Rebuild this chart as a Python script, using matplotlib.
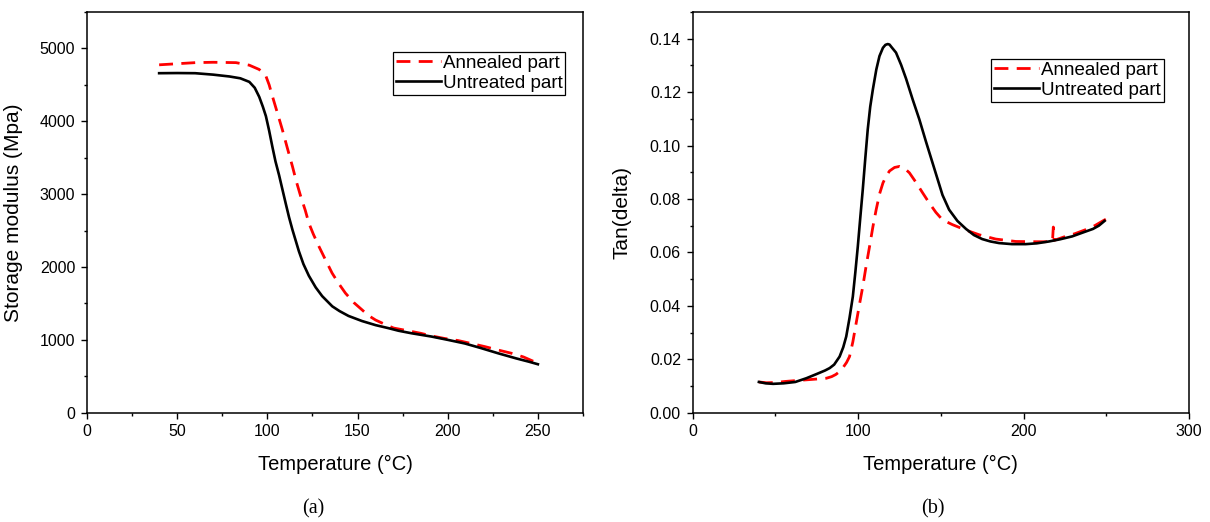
import matplotlib
matplotlib.use('Agg')
import matplotlib.pyplot as plt
from matplotlib.ticker import MultipleLocator, FormatStrFormatter

plt.rcParams['font.family'] = ['Liberation Sans', 'DejaVu Sans']

# ---- (a) storage modulus ----
t_mod_untreated = [40, 50, 60, 70, 79, 85, 90, 93, 95.5, 97.5, 99.2, 101, 102.8, 104.5,
                   106.5, 108.3, 110.2, 112, 113.9, 117.5, 120, 123, 126.8, 130.4, 136,
                   140, 145, 152.5, 160, 167.2, 172.7, 180, 191, 200, 209.5, 218, 228,
                   238, 245, 250]
mod_untreated = [4660, 4662, 4660, 4640, 4615, 4590, 4541, 4460, 4335, 4200, 4070, 3870,
                 3648, 3450, 3260, 3070, 2870, 2685, 2512, 2215, 2040, 1880, 1720, 1600,
                 1460, 1395, 1328, 1258, 1202, 1160, 1125, 1090, 1045, 1000, 950, 890,
                 815, 745, 700, 665]

t_mod_annealed = [40, 50, 60, 70, 82.6, 90, 95.5, 99.2, 101, 102.8, 105.5, 108.3, 111,
                  113.9, 116, 118.5, 121, 123, 125.5, 128.6, 132, 135.9, 139.5, 143.3,
                  148, 152.5, 156, 160, 165.4, 170, 178.3, 185, 191, 198, 205.8, 213,
                  220.6, 228, 235.3, 242, 248, 250]
mod_annealed = [4775, 4790, 4805, 4810, 4805, 4770, 4711, 4620, 4500, 4344, 4120, 3886,
                3640, 3382, 3180, 2969, 2780, 2603, 2450, 2282, 2110, 1916, 1775, 1641,
                1510, 1412, 1335, 1272, 1210, 1162, 1123, 1090, 1054, 1020, 990, 950,
                907, 860, 816, 765, 700, 685]

# ---- (b) tan delta ----
t_tan_untreated = [40, 44, 48.6, 55, 62, 68.7, 75, 80, 82.8, 85.5, 88.8, 91, 92.8, 94.8,
                   96.8, 98.3, 99.8, 101.3, 102.8, 104.3, 105.8, 107.3, 108.9, 111, 112.9,
                   115, 116.5, 117.9, 119, 120, 122.9, 126, 129, 133, 137, 141, 145, 149,
                   151, 155, 160, 165.2, 170, 175, 180, 185.2, 193, 201.3, 208, 215.4,
                   222, 229.4, 237, 242, 245.5, 249]
tan_untreated = [0.0115, 0.0110, 0.0108, 0.0110, 0.0115, 0.0129, 0.0145, 0.0158, 0.0167,
                 0.0180, 0.0210, 0.0245, 0.0285, 0.0355, 0.0435, 0.0525, 0.0622, 0.0730,
                 0.0835, 0.0950, 0.1060, 0.1145, 0.1210, 0.1285, 0.1335, 0.1366, 0.1377,
                 0.1380, 0.1378, 0.1370, 0.1348, 0.1302, 0.1250, 0.1172, 0.1098, 0.1015,
                 0.0935, 0.0855, 0.0815, 0.0760, 0.0718, 0.0688, 0.0665, 0.0650, 0.0641,
                 0.0635, 0.0631, 0.0631, 0.0634, 0.0641, 0.0649, 0.0660, 0.0677, 0.0688,
                 0.0700, 0.0718]

t_tan_annealed = [40, 44.6, 50, 56, 62, 68.7, 75, 80.8, 84, 86.5, 88.8, 91, 93, 94.8,
                  96.8, 98.8, 100.8, 102.8, 104.8, 106.9, 108.9, 110.9, 113, 115, 116.9,
                  119, 122, 125, 128, 131, 135, 139, 143, 147, 151, 157, 165, 173.2,
                  183.2, 195.3, 207.4, 213, 217.5, 218, 218.5, 225.4, 231, 237.5, 243,
                  248.5, 250]
tan_annealed = [0.0115, 0.0112, 0.0113, 0.0117, 0.0120, 0.0123, 0.0126, 0.0129, 0.0135,
                0.0143, 0.0154, 0.0170, 0.0188, 0.0210, 0.0265, 0.0335, 0.0405, 0.0472,
                0.0548, 0.0622, 0.0695, 0.0760, 0.0820, 0.0860, 0.0885, 0.0905, 0.0918,
                0.0922, 0.0915, 0.0898, 0.0862, 0.0823, 0.0785, 0.0750, 0.0722, 0.0704,
                0.0684, 0.0666, 0.0650, 0.0641, 0.0640, 0.0640, 0.0642, 0.0695, 0.0645,
                0.0660, 0.0670, 0.0685, 0.0700, 0.0720, 0.0725]

labels = ['Annealed part', 'Untreated part']

fig = plt.figure(figsize=(12.1, 5.22), dpi=100)
ax1 = fig.add_axes([0.0719, 0.2094, 0.4099, 0.7676])
ax2 = fig.add_axes([0.5725, 0.2094, 0.4101, 0.7676])


def style_axes(ax):
    for sp in ax.spines.values():
        sp.set_linewidth(1.1)
    ax.tick_params(which='both', direction='out', top=False, right=False,
                   labelsize=11.5, width=1.0)
    ax.tick_params(which='major', length=4.5, pad=4)
    ax.tick_params(which='minor', length=2.5)


red_kw = dict(color='#ff0000', lw=2.0, dashes=(5, 3))
blk_kw = dict(color='black', lw=1.9)
leg_kw = dict(loc='upper right', fontsize=13.5, frameon=True, fancybox=False,
              edgecolor='black', framealpha=1, borderaxespad=0, borderpad=0.15,
              handlelength=2.4, handletextpad=0.1, labelspacing=0.15)

# (a)
ax1.plot(t_mod_annealed, mod_annealed, label=labels[0], **red_kw)
ax1.plot(t_mod_untreated, mod_untreated, label=labels[1], **blk_kw)
ax1.set_xlim(0, 275)
ax1.set_ylim(0, 5500)
ax1.xaxis.set_major_locator(MultipleLocator(50))
ax1.xaxis.set_minor_locator(MultipleLocator(25))
ax1.yaxis.set_major_locator(MultipleLocator(1000))
ax1.yaxis.set_minor_locator(MultipleLocator(500))
style_axes(ax1)
ax1.set_xlabel('Temperature (°C)', fontsize=14.5)
ax1.set_ylabel('Storage modulus (Mpa)', fontsize=15)
ax1.xaxis.set_label_coords(0.5, -0.105)
ax1.yaxis.set_label_coords(-0.129, 0.5)
leg1 = ax1.legend(bbox_to_anchor=(0.964, 0.9), **leg_kw)
leg1.get_frame().set_linewidth(0.9)

# (b)
ax2.plot(t_tan_annealed, tan_annealed, label=labels[0], **red_kw)
ax2.plot(t_tan_untreated, tan_untreated, label=labels[1], **blk_kw)
ax2.set_xlim(0, 300)
ax2.set_ylim(0, 0.15)
ax2.xaxis.set_major_locator(MultipleLocator(100))
ax2.xaxis.set_minor_locator(MultipleLocator(50))
ax2.yaxis.set_major_locator(MultipleLocator(0.02))
ax2.yaxis.set_minor_locator(MultipleLocator(0.01))
ax2.yaxis.set_major_formatter(FormatStrFormatter('%.2f'))
style_axes(ax2)
ax2.set_xlabel('Temperature (°C)', fontsize=14.5)
ax2.set_ylabel('Tan(delta)', fontsize=15)
ax2.xaxis.set_label_coords(0.5, -0.105)
ax2.yaxis.set_label_coords(-0.124, 0.5)
leg2 = ax2.legend(bbox_to_anchor=(0.949, 0.8825), **leg_kw)
leg2.get_frame().set_linewidth(0.9)

# panel captions
fig.text(313 / 1210, 1 - 509 / 522, '(a)', ha='center', va='center',
         fontsize=14.5, family='Liberation Serif')
fig.text(933 / 1210, 1 - 509 / 522, '(b)', ha='center', va='center',
         fontsize=14.5, family='Liberation Serif')

fig.savefig('out.png', dpi=100)
